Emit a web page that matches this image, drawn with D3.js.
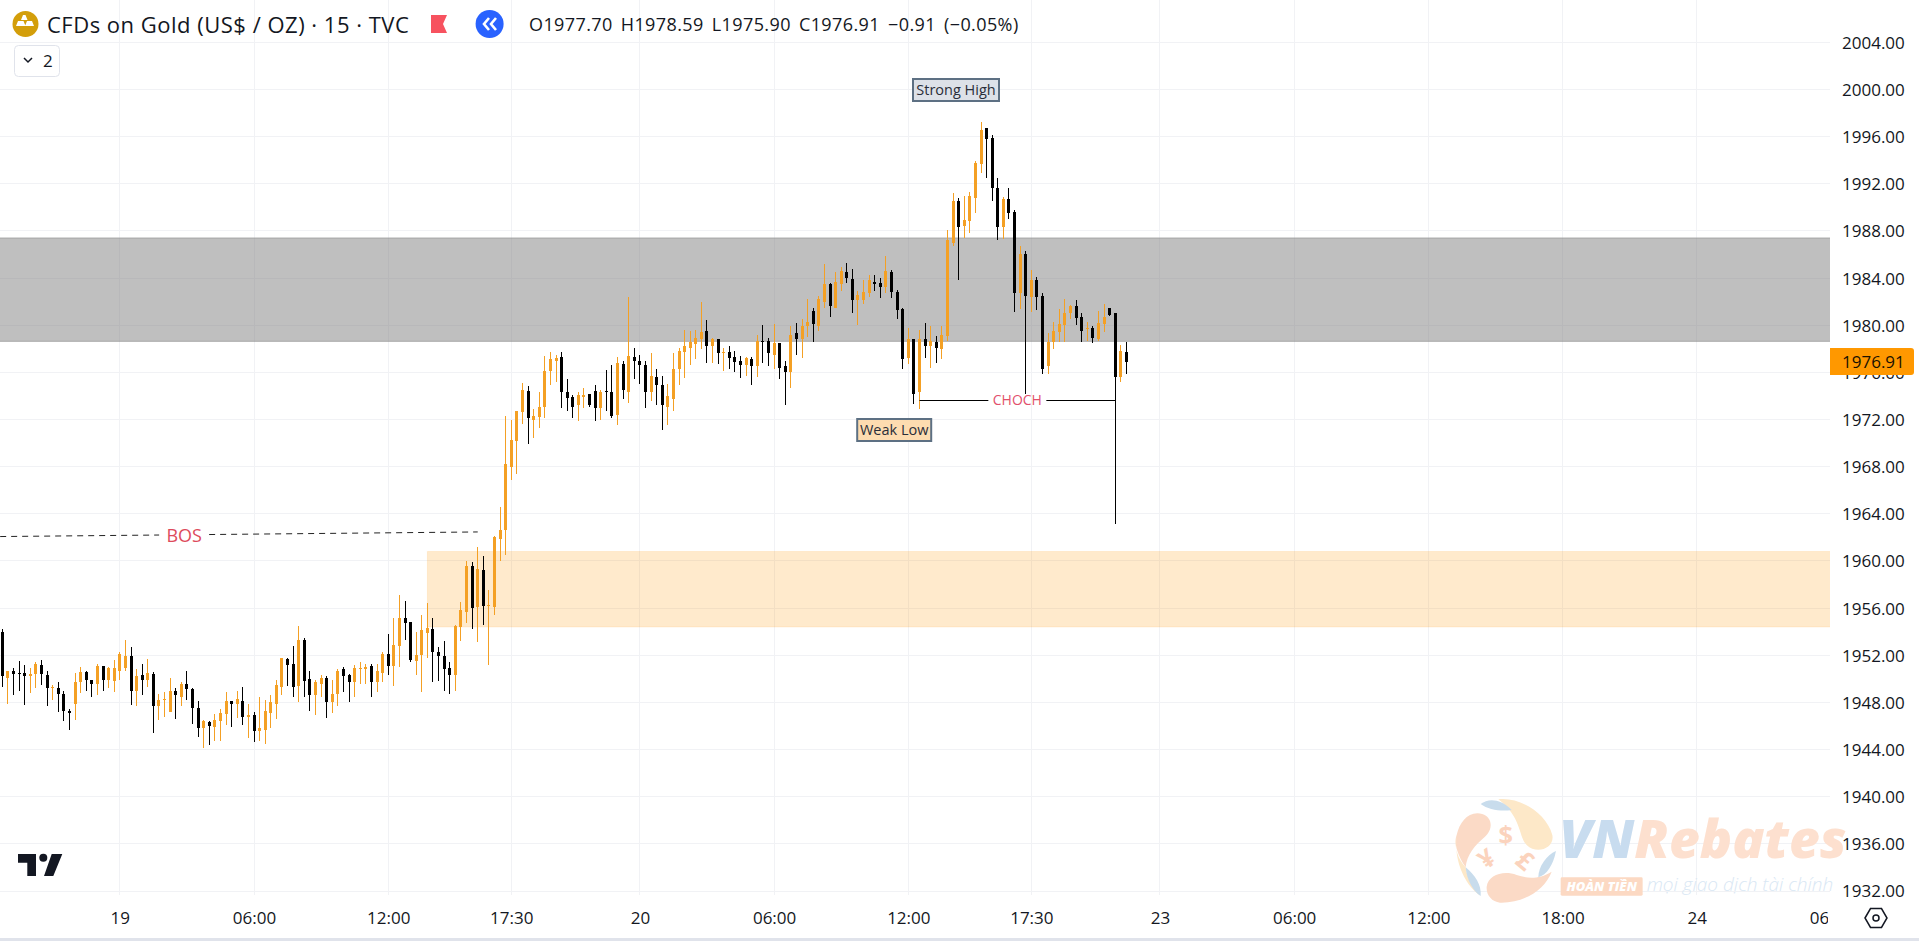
<!DOCTYPE html>
<html><head><meta charset="utf-8">
<script src="https://cdn.jsdelivr.net/npm/d3@7"></script>
<style>
html,body{margin:0;padding:0;background:#fff;overflow:hidden}
svg{display:block}
text{font-family:"Open Sans",sans-serif;}
</style></head><body>
<div id="chart"></div>
<script>
const opens=[1954.0,1950.1,1950.7,1950.5,1950.5,1950.2,1950.4,1951.2,1950.3,1949.2,
1949.2,1948.7,1947.3,1947.9,1949.7,1950.6,1949.9,1949.6,1951.1,1949.9,
1949.8,1950.7,1950.9,1951.9,1949.0,1950.3,1949.9,1950.4,1947.7,1948.2,
1947.2,1949.0,1948.5,1949.6,1949.1,1947.5,1945.8,1946.3,1945.9,1946.4,
1947.0,1948.1,1947.9,1948.1,1946.8,1946.9,1945.6,1945.7,1947.1,1947.9,
1949.3,1951.7,1951.3,1949.4,1953.3,1950.0,1948.6,1949.6,1950.1,1948.0,
1948.7,1950.8,1950.3,1949.7,1950.8,1950.8,1951.1,1949.7,1950.5,1952.1,
1951.1,1952.8,1955.2,1954.8,1951.5,1952.0,1953.9,1954.2,1952.3,1951.9,
1950.9,1950.3,1954.4,1955.7,1959.6,1956.1,1959.2,1956.2,1956.1,1961.9,
1962.6,1968.0,1970.2,1972.6,1974.4,1972.0,1972.2,1973.1,1976.1,1977.0,
1977.3,1974.3,1973.9,1973.2,1973.9,1974.2,1974.4,1973.0,1974.4,1974.3,
1972.4,1976.7,1974.3,1977.3,1977.0,1976.6,1974.3,1975.6,1974.9,1973.1,
1973.7,1976.3,1977.7,1978.1,1978.4,1978.8,1979.5,1978.2,1978.8,1977.6,
1977.7,1977.3,1977.0,1976.6,1977.1,1976.5,1978.7,1978.7,1977.5,1978.5,
1976.5,1976.0,1979.3,1978.8,1979.9,1981.2,1979.9,1982.0,1983.5,1981.5,
1983.5,1984.5,1983.9,1982.1,1982.1,1982.7,1983.7,1983.6,1983.2,1984.5,
1982.8,1981.4,1977.2,1978.8,1974.3,1978.8,1978.2,1978.6,1978.0,1979.1,
1987.0,1990.5,1988.4,1988.8,1990.8,1993.7,1996.7,1995.9,1991.6,1988.3,
1990.7,1989.6,1982.7,1986.0,1982.4,1983.8,1982.5,1976.5,1978.6,1979.4,
1980.0,1981.0,1981.6,1980.7,1979.7,1979.8,1978.8,1980.1,1981.5,1981.0,
1975.6,1977.70];
const highs=[1954.2,1950.7,1950.9,1951.5,1951.2,1950.9,1951.4,1951.6,1950.7,1949.5,
1949.7,1949.0,1947.4,1950.5,1951.0,1950.7,1949.9,1951.3,1951.1,1951.0,
1951.6,1952.3,1953.3,1952.7,1950.8,1951.3,1951.7,1950.6,1948.7,1948.9,
1950.1,1949.2,1949.7,1950.7,1949.2,1948.1,1946.5,1946.4,1947.0,1947.4,
1948.9,1948.1,1949.0,1949.3,1947.9,1947.2,1948.5,1948.2,1948.6,1949.9,
1951.8,1951.8,1952.8,1954.5,1953.5,1950.7,1949.9,1950.3,1950.2,1949.9,
1950.8,1951.0,1950.4,1951.2,1951.4,1951.3,1951.3,1951.3,1952.3,1953.8,
1955.2,1957.1,1956.6,1954.8,1954.0,1955.4,1956.4,1955.2,1952.7,1953.2,
1951.4,1954.6,1956.5,1960.0,1959.9,1961.2,1960.4,1957.5,1962.1,1964.6,
1972.3,1972.0,1972.7,1975.1,1974.8,1972.9,1974.3,1977.4,1977.7,1977.5,
1977.7,1975.4,1974.1,1974.3,1974.7,1974.2,1974.9,1974.5,1976.2,1976.6,
1977.3,1977.0,1982.4,1978.1,1977.5,1977.0,1977.6,1976.3,1975.7,1975.0,
1977.6,1978.1,1979.6,1979.5,1979.6,1982.0,1980.4,1978.9,1978.8,1978.1,
1978.2,1977.8,1977.4,1977.3,1977.3,1979.2,1980.0,1978.9,1980.1,1978.5,
1977.0,1979.9,1980.2,1980.5,1982.2,1981.5,1982.5,1985.2,1983.6,1984.5,
1984.9,1985.3,1984.8,1982.9,1983.8,1984.3,1984.3,1984.0,1985.9,1984.7,
1983.0,1981.5,1979.8,1978.8,1979.6,1980.2,1979.9,1979.1,1979.9,1988.1,
1991.2,1990.8,1991.0,1991.3,1993.9,1997.2,1996.7,1996.1,1992.5,1990.9,
1991.6,1989.8,1986.7,1986.3,1984.7,1984.1,1982.7,1979.3,1980.3,1981.4,
1982.2,1981.7,1982.1,1981.0,1980.3,1979.9,1981.2,1981.8,1981.5,1981.0,
1978.3,1978.59];
const lows=[1949.3,1947.9,1948.6,1949.0,1947.8,1948.8,1949.2,1949.5,1947.7,1948.2,
1947.2,1946.4,1945.7,1946.5,1948.8,1949.0,1948.5,1948.6,1949.0,1949.2,
1948.9,1949.9,1950.7,1947.8,1947.7,1948.6,1949.3,1945.4,1946.5,1946.8,
1947.2,1946.6,1947.7,1948.2,1946.2,1945.1,1944.1,1944.4,1944.7,1944.7,
1946.1,1945.9,1946.7,1946.1,1945.0,1944.6,1944.7,1944.5,1945.8,1946.6,
1948.6,1949.4,1948.5,1948.0,1948.5,1947.3,1946.9,1948.5,1946.7,1947.1,
1947.7,1948.9,1948.0,1948.5,1949.6,1949.6,1948.5,1948.9,1949.7,1950.3,
1949.4,1951.0,1953.3,1951.4,1950.3,1948.9,1951.8,1949.7,1949.8,1949.0,
1948.7,1949.0,1953.2,1954.7,1954.2,1953.1,1954.6,1951.2,1955.4,1960.0,
1960.5,1966.9,1967.4,1971.6,1969.9,1970.4,1971.3,1972.1,1974.9,1975.2,
1973.0,1972.7,1972.1,1971.9,1973.0,1973.1,1971.9,1972.0,1972.7,1972.1,
1971.5,1973.7,1973.4,1975.4,1975.0,1973.0,1973.6,1973.2,1971.1,1971.5,
1972.7,1974.9,1975.5,1976.6,1977.1,1978.0,1976.8,1976.8,1976.7,1976.1,
1976.3,1976.0,1975.5,1975.7,1974.9,1975.6,1976.8,1976.5,1976.3,1975.4,
1973.2,1974.7,1977.5,1977.2,1979.0,1978.6,1979.5,1981.5,1980.7,1981.5,
1982.9,1983.6,1981.0,1980.0,1981.8,1982.4,1982.9,1982.3,1982.7,1982.3,
1980.5,1976.3,1976.7,1973.3,1972.9,1977.2,1976.4,1976.8,1977.1,1978.7,
1986.7,1983.8,1987.4,1987.8,1989.5,1992.9,1992.5,1990.5,1987.2,1987.3,
1989.0,1981.1,1981.4,1974.2,1981.1,1981.3,1975.9,1975.9,1978.0,1978.6,
1978.6,1980.5,1980.0,1978.6,1978.7,1978.5,1978.7,1979.4,1980.8,1963.1,
1975.2,1975.90];
const closes=[1950.2,1950.7,1950.4,1950.4,1950.2,1950.4,1951.3,1950.4,1949.2,1949.3,
1948.7,1947.3,1947.1,1949.7,1950.6,1949.9,1949.6,1951.1,1949.9,1950.9,
1950.9,1952.1,1951.9,1949.0,1950.2,1949.9,1950.5,1947.7,1948.2,1948.3,
1949.0,1948.6,1949.6,1949.1,1947.5,1945.8,1946.4,1946.0,1946.5,1947.1,
1948.1,1947.9,1948.3,1946.8,1946.9,1945.6,1945.8,1947.3,1948.0,1949.5,
1951.8,1951.2,1949.3,1953.3,1949.8,1948.6,1949.7,1950.1,1948.0,1948.7,
1950.7,1950.2,1949.7,1950.9,1950.9,1951.0,1949.7,1950.7,1952.1,1951.1,
1952.9,1955.2,1954.7,1951.6,1952.0,1954.1,1954.3,1952.3,1951.9,1950.8,
1950.3,1954.5,1955.8,1959.6,1956.0,1959.3,1956.2,1956.3,1962.0,1962.6,
1968.2,1970.3,1972.7,1974.5,1972.1,1972.3,1973.1,1976.1,1977.1,1977.2,
1974.3,1973.8,1973.1,1974.1,1974.1,1973.2,1973.0,1974.3,1974.3,1972.3,
1976.8,1974.5,1977.4,1977.0,1976.6,1974.3,1975.7,1974.9,1973.2,1974.0,
1976.3,1977.8,1978.2,1978.6,1978.9,1979.4,1978.2,1978.8,1977.6,1977.7,
1977.2,1976.9,1976.6,1977.2,1976.5,1978.7,1978.6,1977.6,1978.5,1976.4,
1976.0,1979.2,1978.8,1979.9,1980.3,1980.1,1982.2,1983.5,1981.6,1983.7,
1984.6,1984.0,1982.1,1982.6,1982.8,1983.8,1983.5,1983.2,1984.6,1982.8,
1981.3,1977.1,1978.8,1974.2,1978.8,1978.2,1978.7,1978.1,1979.2,1987.2,
1990.5,1988.3,1988.9,1991.0,1993.8,1996.6,1995.8,1991.6,1988.3,1990.7,
1989.5,1982.7,1986.0,1982.5,1983.8,1982.4,1976.3,1978.6,1979.5,1980.1,
1981.0,1981.6,1980.6,1979.5,1979.8,1978.9,1980.2,1980.7,1980.9,1975.6,
1977.8,1976.91];
const priceTicks=[2004,2000,1996,1992,1988,1984,1980,1976,1972,1968,1964,1960,1956,1952,1948,1944,1940,1936,1932];
const timeTickBars=[21,45,69,91,114,138,162,184,207,231,255,279,303,327];
const timeTickLabels=["19","06:00","12:00","17:30","20","06:00","12:00","17:30","23","06:00","12:00","18:00","24","06:00"];
const zoneGrey=[1987.4,1978.63];
const zoneOrange=[1960.8,1954.4];
const zoneOrangeStartBar=76;
const bosLine=[[-0.4,1962.07],[85,1962.46]];
const bosLabelBar=32.5, bosLabelPrice=1962.15;
const chochPrice=1973.66, chochBars=[164,199];
const lastPrice=1976.91;
const legendTitle="CFDs on Gold (US$ / OZ) · 15 · TVC";
const legendOHLC="O1977.70 H1978.59 L1975.90 C1976.91 −0.91 (−0.05%)";

const W=1919,H=941,plotR=1830,plotB=895;
const x=d3.scaleLinear().domain([0,327]).range([2.4,2.4+327*5.592]);
const y=d3.scaleLinear().domain([1932,2004]).range([891,42.3]);
const svg=d3.select("#chart").append("svg").attr("width",W).attr("height",H);
const defs=svg.append("defs");
defs.append("clipPath").attr("id","plotClip").append("rect").attr("width",plotR).attr("height",plotB);
defs.append("clipPath").attr("id","xClip").append("rect").attr("width",1828).attr("height",H);
defs.append("clipPath").attr("id","yClip").append("rect").attr("x",plotR).attr("width",W-plotR).attr("height",897);

const plot=svg.append("g").attr("clip-path","url(#plotClip)");
const gridC="#f1f2f5";
plot.append("g").selectAll("line").data(priceTicks).join("line")
 .attr("x1",0).attr("x2",plotR).attr("y1",d=>Math.floor(y(d))+.5).attr("y2",d=>Math.floor(y(d))+.5).attr("stroke",gridC);
plot.append("g").selectAll("line").data(timeTickBars).join("line")
 .attr("y1",0).attr("y2",plotB).attr("x1",d=>Math.floor(x(d))+.5).attr("x2",d=>Math.floor(x(d))+.5).attr("stroke",gridC);

// zones
plot.append("rect").attr("x",-3).attr("width",plotR+6).attr("y",y(zoneGrey[0])).attr("height",y(zoneGrey[1])-y(zoneGrey[0]))
 .attr("fill","#787878").attr("fill-opacity",.47).attr("stroke","#8c8c8c").attr("stroke-opacity",.6);
plot.append("rect").attr("x",x(zoneOrangeStartBar)).attr("width",plotR+3-x(zoneOrangeStartBar)).attr("y",y(zoneOrange[0])).attr("height",y(zoneOrange[1])-y(zoneOrange[0]))
 .attr("fill","#ff9800").attr("fill-opacity",.2).attr("stroke","#ff9800").attr("stroke-opacity",.12);

// BOS
const bosGap=[x(bosLabelBar)-25,x(bosLabelBar)+25];
const bosAt=px=>bosLine[0][1]+(bosLine[1][1]-bosLine[0][1])*(x.invert(px)-bosLine[0][0])/(bosLine[1][0]-bosLine[0][0]);
[[x(bosLine[0][0]),bosGap[0]],[bosGap[1],x(bosLine[1][0])]].forEach(s=>{
 plot.append("line").attr("x1",s[0]).attr("x2",s[1]).attr("y1",y(bosAt(s[0]))).attr("y2",y(bosAt(s[1])))
 .attr("stroke","#222").attr("stroke-width",1).attr("stroke-dasharray","6 5");
});
plot.append("text").attr("x",x(bosLabelBar)).attr("y",y(bosLabelPrice)).attr("dy","0.36em").attr("text-anchor","middle")
 .attr("fill","#dd4b5c").attr("font-size",18).text("BOS");

// candles
const bars=d3.range(closes.length);
const orange="#f4a024",black="#000";
const col=i=>closes[i]>=opens[i]?orange:black;
const cg=plot.append("g").attr("shape-rendering","crispEdges");
cg.selectAll("rect.w").data(bars).join("rect").attr("class","w")
 .attr("x",i=>Math.floor(x(i))).attr("width",1)
 .attr("y",i=>Math.round(y(highs[i]))).attr("height",i=>Math.max(1,Math.round(y(lows[i]))-Math.round(y(highs[i]))))
 .attr("fill",col);
cg.selectAll("rect.b").data(bars).join("rect").attr("class","b")
 .attr("x",i=>Math.floor(x(i))-1).attr("width",3)
 .attr("y",i=>Math.round(y(Math.max(opens[i],closes[i]))))
 .attr("height",i=>Math.max(1,Math.round(y(Math.min(opens[i],closes[i])))-Math.round(y(Math.max(opens[i],closes[i])))))
 .attr("fill",col);

// CHOCH
const chy=Math.round(y(chochPrice))+.5;
const chochMid=(chochBars[0]+chochBars[1])/2;
plot.append("line").attr("x1",x(chochBars[0])).attr("x2",x(chochMid)-29).attr("y1",chy).attr("y2",chy).attr("stroke","#000");
plot.append("line").attr("x1",x(chochMid)+29).attr("x2",x(chochBars[1])).attr("y1",chy).attr("y2",chy).attr("stroke","#000");
plot.append("text").attr("x",x(chochMid)).attr("y",chy-1).attr("dy","0.36em").attr("text-anchor","middle")
 .attr("fill","#e2506c").attr("font-size",14).text("CHOCH");

// labels
function tag(cx,cy,w,h,fill,txt){
 const g=svg.append("g");
 g.append("rect").attr("x",cx-w/2).attr("y",cy-h/2).attr("width",w).attr("height",h).attr("fill",fill).attr("stroke","#5d7083").attr("stroke-width",2);
 g.append("text").attr("x",cx).attr("y",cy).attr("dy","0.36em").attr("text-anchor","middle").attr("fill","#2a2e39").attr("font-size",14.5).text(txt);
}
tag(956,90,86,22,"#dde1e8","Strong High");
tag(894.2,430,74,22,"#fddcb0","Weak Low");

// axes
const axisFont='"Open Sans",sans-serif';
const xAxis=d3.axisBottom(x).tickValues(timeTickBars).tickFormat((d,i)=>timeTickLabels[i]).tickSize(0).tickPadding(0);
const gx=svg.append("g").attr("clip-path","url(#xClip)").append("g").attr("transform","translate(0,912)").call(xAxis);
const yAxis=d3.axisRight(y).tickValues(priceTicks).tickFormat(d3.format(".2f")).tickSize(0).tickPadding(0);
const gy=svg.append("g").attr("clip-path","url(#yClip)").append("g").attr("transform","translate(1842,0.5)").call(yAxis);
[gx,gy].forEach(g=>{g.select(".domain").remove();g.selectAll("text").attr("font-size",17).attr("fill","#131722").attr("font-family",axisFont);});

// price tag
svg.append("path").attr("d",`M1830,${y(lastPrice)-13.5}h81a3,3 0 0 1 3,3v21a3,3 0 0 1 -3,3h-81z`).attr("fill","#ff9800");
svg.append("text").attr("x",1842).attr("y",y(lastPrice)).attr("dy","0.36em").attr("font-size",17).attr("fill","#1a1200").text(d3.format(".2f")(lastPrice));

// bottom line
svg.append("rect").attr("x",0).attr("y",938).attr("width",W).attr("height",3).attr("fill","#e0e3eb");

// legend
svg.append("circle").attr("cx",25.5).attr("cy",24).attr("r",13).attr("fill","#d39e0a");
svg.append("path").attr("d","M23,15l2.5,0l2,5h-6.5zM18,21h5.5l2,5h-9.5zM27,21h5l2,5h-9z").attr("fill","#fff");
svg.append("text").attr("x",47).attr("y",25).attr("dy","0.36em").attr("font-size",22).attr("letter-spacing",0.5).attr("fill","#131722").text(legendTitle);
svg.append("path").attr("d","M431,15h16l-4,9l4,9h-16z").attr("fill","#f7525f");
svg.append("circle").attr("cx",489.6).attr("cy",24).attr("r",14).attr("fill","#2962ff");
svg.append("path").attr("d","M489,18l-5,6l5,6M496,18l-5,6l5,6").attr("fill","none").attr("stroke","#fff").attr("stroke-width",2.6);
svg.append("text").attr("x",529).attr("y",25).attr("dy","0.36em").attr("font-size",18).attr("letter-spacing",0.4).attr("word-spacing",3).attr("fill","#131722").text(legendOHLC);
svg.append("rect").attr("x",14.5).attr("y",45.5).attr("width",45).attr("height",31).attr("rx",4).attr("fill","#fff").attr("stroke","#e0e3eb");
svg.append("path").attr("d","M24,58l4,4l4,-4").attr("fill","none").attr("stroke","#131722").attr("stroke-width",1.5);
svg.append("text").attr("x",43).attr("y",61).attr("dy","0.36em").attr("font-size",17).attr("fill","#131722").text("2");

// TradingView logo
svg.append("path").attr("d","M18,854H36V876H27.3V862.7H18ZM44,876L51.7,854H62.3L53.3,876Z").attr("fill","#131722");
svg.append("circle").attr("cx",43.3).attr("cy",857.7).attr("r",4).attr("fill","#131722");

// settings hexagon
svg.append("path").attr("d","M1865,918l5.5,-9.5h11l5.5,9.5l-5.5,9.5h-11z").attr("fill","none").attr("stroke","#131722").attr("stroke-width",1.5);
svg.append("circle").attr("cx",1876).attr("cy",918).attr("r",3).attr("fill","none").attr("stroke","#131722").attr("stroke-width",1.5);

// watermark
const wm=svg.append("g").attr("transform","translate(1420,780) scale(0.3333)");
const wY="#fde8c8",wP="#fbdac6",wB="#c8dcec";
wm.append("path").attr("d","M235,58C300,50 380,100 397,165C405,205 350,225 320,195C295,170 305,110 235,58Z").attr("fill",wY);
wm.append("path").attr("d","M182,72C205,55 240,55 275,90C245,95 205,90 182,72Z").attr("fill",wB);
wm.append("path").attr("d","M172,100C215,100 225,145 195,170C165,195 140,225 137,262C115,230 100,190 110,165C118,130 140,100 172,100Z").attr("fill",wP);
wm.append("path").attr("d","M110,165C100,200 115,240 137,262C140,290 160,330 182,348C140,320 100,250 110,165Z").attr("fill",wY);
wm.append("path").attr("d","M137,262C165,285 185,315 182,348C160,335 140,300 137,262Z").attr("fill",wB);
wm.append("path").attr("d","M200,320C205,285 250,270 290,285C320,295 355,300 395,275C375,330 310,370 240,368C215,365 198,345 200,320Z").attr("fill",wP);
wm.append("path").attr("d","M408,213C400,255 380,285 355,292C355,260 380,225 408,213Z").attr("fill",wB);
const wf=(t,a,b,s,r)=>wm.append("text").attr("transform",`translate(${a},${b}) rotate(${r})`).attr("text-anchor","middle").attr("font-size",s).attr("font-weight",700).attr("fill","#fbd3bd").attr("font-family","Roboto").text(t);
wf("$",257,192,76,0);wf("¥",215,258,76,-35);wf("£",298,262,76,40);
const logoText=wm.append("text").attr("x",418).attr("y",235).attr("font-size",160).attr("font-weight",900).attr("font-style","italic").attr("font-family","Roboto");
logoText.append("tspan").attr("fill","#c8dcef").text("VN");
logoText.append("tspan").attr("fill","#fde0cf").text("Rebates");
wm.append("rect").attr("x",422).attr("y",292).attr("width",246).attr("height",55).attr("rx",4).attr("fill","#fcd9c3");
wm.append("text").attr("x",545).attr("y",333).attr("text-anchor","middle").attr("font-size",39).attr("font-weight",800).attr("font-style","italic").attr("fill","#fff").attr("font-family","Roboto").text("HOÀN TIỀN");
wm.append("text").attr("x",680).attr("y",334).attr("font-size",57).attr("font-style","italic").attr("font-weight",300).attr("fill","#d9e7f4").attr("font-family","Roboto").text("mọi giao dịch tài chính");
</script>
</body></html>
